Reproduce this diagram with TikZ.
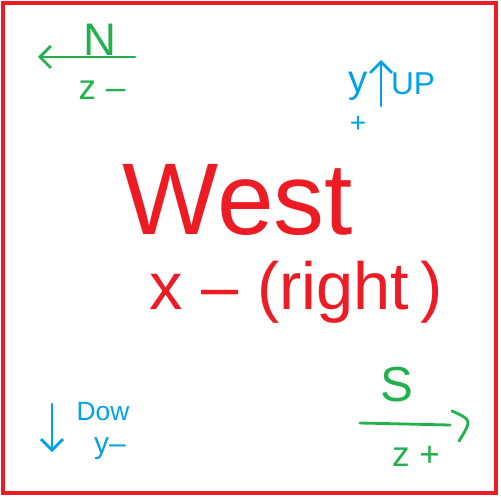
\documentclass[tikz,border=0pt]{standalone}
\usepackage{fontspec}
\setmainfont{Liberation Sans}
\usepackage{xcolor}
\usetikzlibrary{positioning, arrows.meta}

\definecolor{paintred}{HTML}{ED1C24}
\definecolor{paintgreen}{HTML}{22B14C}
\definecolor{paintblue}{HTML}{00A2E8}

\begin{document}
\begin{tikzpicture}[
  x=0.02cm, y=-0.02cm,
  >={Straight Barb[length=2.2mm, width=4.4mm]},
  frame/.style={draw=paintred, line width=1.8pt},
  axis/.style={->, line width=1.6pt, line cap=round},
  bigtxt/.style={text=paintred, inner sep=0pt, font=\fontsize{58}{60}\selectfont},
  midtxt/.style={text=paintred, inner sep=0pt, font=\fontsize{38}{40}\selectfont},
  grn/.style={text=paintgreen, inner sep=0pt, font=\fontsize{#1}{#1}\selectfont},
  blu/.style={text=paintblue, inner sep=0pt, font=\fontsize{#1}{#1}\selectfont}
]
  \useasboundingbox (0,0) rectangle (500,500);
  \draw[frame] (3,3) rectangle (496,493);

  %---------------- CENTRE ----------------%
  \node[bigtxt] (west) at (238,200) {West};
  \node[midtxt] (xminus) at (296,292) {x\ –\ (right\,)};

  %---------------- NORTH ----------------%
  \coordinate (n-start) at (135,57);
  \coordinate (n-end) at (38,57);
  \draw[axis, draw=paintgreen] (n-start) -- (n-end);
  \node[grn=26] (north) at (100,40) {N};
  \node[grn=20] (zminus) at (102,90) {z –};

  %---------------- UP ----------------%
  \coordinate (u-start) at (381,106);
  \coordinate (u-end) at (381,60);
  \draw[axis, draw=paintblue] (u-start) -- (u-end);
  \node[blu=22] (yup) at (358,86) {y};
  \node[blu=7, below=3mm of yup.south] (yplus) {\fontsize{16}{16}\selectfont +};
  \node[blu=18] (up) at (413,84) {UP};

  %---------------- DOWN ----------------%
  \coordinate (d-start) at (52,404);
  \coordinate (d-end) at (52,452);
  \draw[axis, draw=paintblue] (d-start) -- (d-end);
  \node[blu=15] (down) at (103,412) {Dow};
  \node[blu=17] (yminus) at (110,449) {y–};

  %---------------- SOUTH ----------------%
  \node[grn=28] (south) at (397,385) {S};
  \coordinate (s-start) at (360,423);
  \coordinate (s-end) at (450,425);
  \coordinate (hook-top) at (452,411);
  \coordinate (hook-bot) at (459,441);
  \draw[line width=1.6pt, line cap=round, draw=paintgreen] (s-start) -- (s-end);
  \draw[line width=1.6pt, line cap=round, draw=paintgreen]
    (hook-top) .. controls (472,420) .. (hook-bot);
  \node[grn=20] (zplus) at (416,456) {z +};

\end{tikzpicture}
\end{document}
